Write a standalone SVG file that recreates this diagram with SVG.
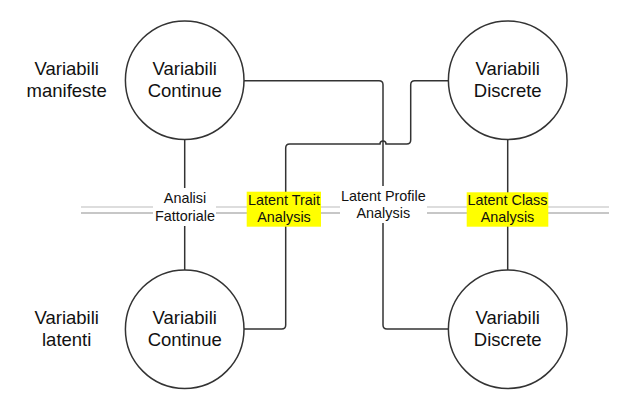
<svg xmlns="http://www.w3.org/2000/svg" width="642" height="419" viewBox="0 0 642 419">
<style>
.node{fill:#fff;stroke:#333;stroke-width:1.5}
.big{font-family:"Liberation Sans",Arial,sans-serif;font-size:18.5px;fill:#111;text-anchor:middle}
.small{font-family:"Liberation Sans",Arial,sans-serif;font-size:14.4px;fill:#111;text-anchor:middle}
.conn{fill:none;stroke:#333;stroke-width:1.5}
.hl{fill:#ffff00}
.wb{fill:#fff}
</style>
<rect width="642" height="419" fill="#fff"/>
<g id="separator">
<line x1="81" y1="207" x2="609" y2="207" stroke="#d2d2d2" stroke-width="1.6"/>
<line x1="81" y1="213" x2="609" y2="213" stroke="#b4b4b4" stroke-width="1.6"/>
</g>
<g id="connectors">
<path class="conn" d="M184.7,139.4 V270"/>
<path class="conn" d="M507.7,139.4 V270"/>
<path class="conn" d="M244,80.7 H379 q4,0 4,4 V325 q0,4 4,4 H448.4"/>
<path class="conn" d="M244,329 H281.7 q4,0 4,-4 V148 q0,-4 4,-4 H380 a3,3 0 0 1 6,0 H406.7 q4,0 4,-4 V84.7 q0,-4 4,-4 H448.4"/>
</g>
<g id="label-manifeste">
<text class="big" x="66.7" y="75">Variabili</text>
<text class="big" x="66.7" y="97">manifeste</text>
</g>
<g id="label-latenti">
<text class="big" x="66.7" y="324">Variabili</text>
<text class="big" x="66.7" y="345.5">latenti</text>
</g>
<g id="node-manifest-continue">
<circle class="node" cx="184.7" cy="80.2" r="59.3"/>
<text class="big" x="184.7" y="75">Variabili</text>
<text class="big" x="184.7" y="96.7">Continue</text>
</g>
<g id="node-manifest-discrete">
<circle class="node" cx="507.7" cy="80.2" r="59.3"/>
<text class="big" x="507.7" y="75">Variabili</text>
<text class="big" x="507.7" y="96.7">Discrete</text>
</g>
<g id="node-latent-continue">
<circle class="node" cx="184.7" cy="329.2" r="59.3"/>
<text class="big" x="184.7" y="324">Variabili</text>
<text class="big" x="184.7" y="345.7">Continue</text>
</g>
<g id="node-latent-discrete">
<circle class="node" cx="507.7" cy="329.2" r="59.3"/>
<text class="big" x="507.7" y="324">Variabili</text>
<text class="big" x="507.7" y="345.7">Discrete</text>
</g>
<g id="label-analisi-fattoriale">
<rect class="wb" x="153" y="188" width="63" height="38"/>
<text class="small" x="185" y="203.3">Analisi</text>
<text class="small" x="185" y="221">Fattoriale</text>
</g>
<g id="label-latent-trait">
<rect class="hl" x="246.7" y="191.7" width="74.3" height="35"/>
<text class="small" x="284" y="205">Latent Trait</text>
<text class="small" x="284" y="221.7">Analysis</text>
</g>
<g id="label-latent-profile">
<rect class="wb" x="340" y="186" width="87" height="37"/>
<text class="small" x="383.3" y="200.7">Latent Profile</text>
<text class="small" x="383.3" y="217.7">Analysis</text>
</g>
<g id="label-latent-class">
<rect class="hl" x="466.7" y="192.3" width="81.6" height="34.4"/>
<text class="small" x="507.5" y="205">Latent Class</text>
<text class="small" x="507.5" y="221.7">Analysis</text>
</g>
</svg>
